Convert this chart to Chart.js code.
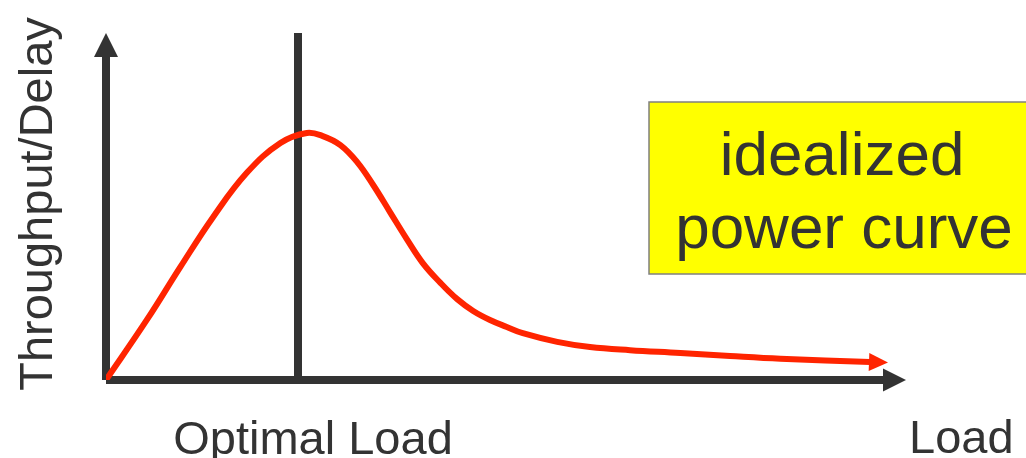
<!DOCTYPE html>
<html>
<head>
<meta charset="utf-8">
<title>Idealized power curve</title>
<script src="https://cdn.jsdelivr.net/npm/chart.js@4/dist/chart.umd.min.js"></script>
<style>
  html, body { margin: 0; padding: 0; background: #fff; overflow: hidden; }
  canvas { display: block; }
</style>
</head>
<body>
<canvas id="graph-power" width="1026" height="458"></canvas>
<script>
// load (0-100) against throughput/delay (0-100)
const loadValues = [0, 5.1, 9.3, 13.4, 17.6, 21.8, 25.1, 27.1, 29.3, 31.4, 33.4, 35.5, 37.6, 39.6,
  41.8, 43.9, 45.9, 48.0, 50.1, 52.1, 56.4, 60.5, 65.5, 71.8, 78.0, 84.3, 95.5];
const powerValues = [0, 17.3, 32.6, 47.0, 59.7, 68.3, 71.2, 70.3, 67.7, 62.8, 56.2, 48.4, 40.6, 33.7,
  28.0, 23.3, 19.9, 17.3, 15.3, 13.5, 11.0, 9.5, 8.6, 7.8, 6.9, 6.1, 5.2];
const optimalLoad = 24;
const xLabel = "Load";
const optimalLabel = "Optimal Load";
const yLabel = "Throughput/Delay";
const noteLines = ["idealized", "power curve"];

const axisColor = "#333333";
const curveColor = "#ff2400";
const textColor = "#333333";
const font = "'Liberation Sans', Arial, sans-serif";

function arrowHead(ctx, tipX, tipY, angle, len, half) {
  ctx.save();
  ctx.translate(tipX, tipY);
  ctx.rotate(angle);
  ctx.beginPath();
  ctx.moveTo(0, 0);
  ctx.lineTo(-len, -half);
  ctx.lineTo(-len, half);
  ctx.closePath();
  ctx.fill();
  ctx.restore();
}

const diagram = {
  id: "diagram",
  beforeDatasetsDraw(chart) {
    const { ctx, scales: { x, y } } = chart;
    const x0 = x.getPixelForValue(0);
    const y0 = y.getPixelForValue(0);
    const xEnd = x.getPixelForValue(100);
    const yEnd = y.getPixelForValue(100);
    const xOpt = x.getPixelForValue(optimalLoad);
    ctx.save();
    ctx.strokeStyle = axisColor;
    ctx.fillStyle = axisColor;
    ctx.lineWidth = 8;
    ctx.lineCap = "butt";
    ctx.beginPath();
    ctx.moveTo(x0, y0);
    ctx.lineTo(x0, yEnd + 22);
    ctx.moveTo(x0, y0);
    ctx.lineTo(xEnd - 21, y0);
    ctx.moveTo(xOpt, yEnd);
    ctx.lineTo(xOpt, y0);
    ctx.stroke();
    arrowHead(ctx, x0, yEnd, -Math.PI / 2, 24, 12);
    arrowHead(ctx, xEnd, y0, 0, 23, 11.5);
    ctx.restore();
  },
  afterDraw(chart) {
    const { ctx, scales: { x, y } } = chart;
    ctx.save();
    // red arrow at the end of the curve
    const n = loadValues.length;
    const px1 = x.getPixelForValue(loadValues[n - 2]), py1 = y.getPixelForValue(powerValues[n - 2]);
    const px2 = x.getPixelForValue(loadValues[n - 1]), py2 = y.getPixelForValue(powerValues[n - 1]);
    const ang = Math.atan2(py2 - py1, px2 - px1);
    ctx.fillStyle = curveColor;
    arrowHead(ctx, px2 + 18 * Math.cos(ang), py2 + 18 * Math.sin(ang), ang, 19, 9);

    // labels
    ctx.fillStyle = textColor;
    ctx.font = "47px " + font;
    ctx.textBaseline = "alphabetic";
    ctx.textAlign = "center";
    ctx.fillText(optimalLabel, 313, 454);
    ctx.textAlign = "left";
    ctx.fillText(xLabel, 909, 453);
    ctx.save();
    ctx.translate(52, 204);
    ctx.rotate(-Math.PI / 2);
    ctx.textAlign = "center";
    ctx.fillText(yLabel, 0, 0);
    ctx.restore();

    // yellow note box
    ctx.fillStyle = "#ffff00";
    ctx.fillRect(649, 102, 390, 172);
    ctx.strokeStyle = "#808080";
    ctx.lineWidth = 1.5;
    ctx.strokeRect(649, 102, 390, 172);
    ctx.fillStyle = textColor;
    ctx.font = "62px " + font;
    ctx.textAlign = "center";
    ctx.fillText(noteLines[0], 842, 175);
    ctx.fillText(noteLines[1], 844, 248);
    ctx.restore();
  }
};

new Chart(document.getElementById("graph-power"), {
  type: "line",
  data: {
    datasets: [{
      data: loadValues.map((v, i) => ({ x: v, y: powerValues[i] })),
      borderColor: curveColor,
      borderWidth: 6,
      pointRadius: 0,
      tension: 0.4,
      fill: false
    }]
  },
  options: {
    responsive: false,
    animation: false,
    layout: { padding: { left: 106, right: 120, top: 33, bottom: 78 } },
    plugins: { legend: { display: false }, tooltip: { enabled: false } },
    scales: {
      x: { type: "linear", min: 0, max: 100, display: false },
      y: { type: "linear", min: 0, max: 100, display: false }
    }
  },
  plugins: [diagram]
});
</script>
</body>
</html>
